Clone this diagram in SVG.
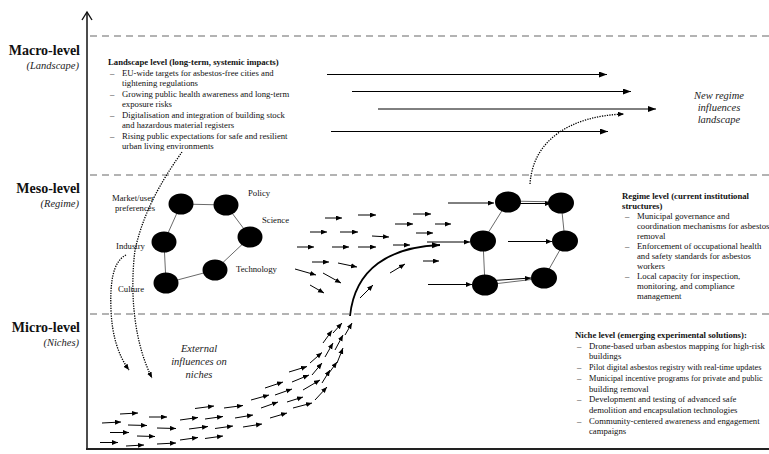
<svg xmlns="http://www.w3.org/2000/svg" width="769" height="454" viewBox="0 0 769 454">
<style>
.t{font-family:"Liberation Serif","Times New Roman",serif;font-size:8.7px;fill:#111}
.b{font-weight:bold}
.sm{font-size:8.3px}
.lvl{font-family:"Liberation Serif","Times New Roman",serif;font-size:14px;font-weight:bold;text-anchor:end;fill:#111}
.sub{font-family:"Liberation Serif","Times New Roman",serif;font-size:10.5px;font-style:italic;text-anchor:end;fill:#222}
.it{font-family:"Liberation Serif","Times New Roman",serif;font-size:10.5px;font-style:italic;text-anchor:middle;fill:#222}
.dash{stroke:#9a9a9a;stroke-width:1.3;stroke-dasharray:7 5;fill:none}
.node{fill:#000}
.edge{stroke:#6a6a6a;stroke-width:1;fill:none}
.sa{stroke:#000;stroke-width:1;fill:none;marker-end:url(#ah)}
.la{stroke:#000;stroke-width:1;fill:none;marker-end:url(#ahl)}
.dot{stroke:#000;stroke-width:1.3;stroke-dasharray:1.3 1.2;fill:none;marker-end:url(#ah)}
</style>
<defs>
<marker id="ah" markerUnits="userSpaceOnUse" markerWidth="7" markerHeight="6" refX="6" refY="2.5" orient="auto"><path d="M0,0 L6,2.5 L0,5 z" fill="#000"/></marker>
<marker id="ahl" markerUnits="userSpaceOnUse" markerWidth="9" markerHeight="7" refX="8" refY="3" orient="auto"><path d="M0,0 L8,3 L0,6 z" fill="#000"/></marker>
</defs>
<rect width="769" height="454" fill="#fff"/>

<g id="axes">
<line x1="87" y1="12" x2="87" y2="450" stroke="#111" stroke-width="1.5"/>
<path d="M82,20 L87,12 L92,20" stroke="#111" stroke-width="1.4" fill="none"/>
<line x1="86" y1="449" x2="769" y2="449" stroke="#222" stroke-width="2"/>
<line class="dash" x1="90" y1="36" x2="769" y2="36"/>
<line class="dash" x1="90" y1="175" x2="769" y2="175"/>
<line class="dash" x1="90" y1="314" x2="769" y2="314"/>
</g>

<g id="level-labels">
<text class="lvl" x="80" y="55">Macro-level</text>
<text class="sub" x="79" y="69">(Landscape)</text>
<text class="lvl" x="80" y="193">Meso-level</text>
<text class="sub" x="79" y="207">(Regime)</text>
<text class="lvl" x="80" y="332">Micro-level</text>
<text class="sub" x="79" y="346">(Niches)</text>
</g>

<g id="landscape-text" class="t">
<text class="t b" x="108" y="65">Landscape level (long-term, systemic impacts)</text>
<text x="110" y="75.5">–</text><text x="122" y="75.5">EU-wide targets for asbestos-free cities and</text>
<text x="122" y="86">tightening regulations</text>
<text x="110" y="96.5">–</text><text x="122" y="96.5">Growing public health awareness and long-term</text>
<text x="122" y="107">exposure risks</text>
<text x="110" y="117.5">–</text><text x="122" y="117.5">Digitalisation and integration of building stock</text>
<text x="122" y="128">and hazardous material registers</text>
<text x="110" y="138.5">–</text><text x="122" y="138.5">Rising public expectations for safe and resilient</text>
<text x="122" y="149">urban living environments</text>
</g>

<g id="regime-text" class="t">
<text class="t b" x="622" y="199">Regime level (current institutional</text>
<text class="t b" x="622" y="209">structures)</text>
<text x="625" y="219">–</text><text x="637" y="219">Municipal governance and</text>
<text x="637" y="229">coordination mechanisms for asbestos</text>
<text x="637" y="239">removal</text>
<text x="625" y="249">–</text><text x="637" y="249">Enforcement of occupational health</text>
<text x="637" y="259">and safety standards for asbestos</text>
<text x="637" y="269">workers</text>
<text x="625" y="279">–</text><text x="637" y="279">Local capacity for inspection,</text>
<text x="637" y="289">monitoring, and compliance</text>
<text x="637" y="299">management</text>
</g>

<g id="niche-text" class="t">
<text class="t b" x="575" y="338">Niche level (emerging experimental solutions):</text>
<text x="577" y="348.7">–</text><text x="589" y="348.7">Drone-based urban asbestos mapping for high-risk</text>
<text x="589" y="359.4">buildings</text>
<text x="577" y="370.1">–</text><text class="t sm" x="589" y="370.1">Pilot digital asbestos registry with real-time updates</text>
<text x="577" y="380.8">–</text><text class="t sm" x="589" y="380.8">Municipal incentive programs for private and public</text>
<text x="589" y="391.5">building removal</text>
<text x="577" y="402.2">–</text><text x="589" y="402.2">Development and testing of advanced safe</text>
<text x="589" y="412.9">demolition and encapsulation technologies</text>
<text x="577" y="423.6">–</text><text x="589" y="423.6">Community-centered awareness and engagement</text>
<text x="589" y="434.3">campaigns</text>
</g>

<g id="captions">
<text class="it" x="719" y="99">New regime</text>
<text class="it" x="719" y="111">influences</text>
<text class="it" x="719" y="123">landscape</text>
<text class="it" x="199" y="352">External</text>
<text class="it" x="199" y="365">influences on</text>
<text class="it" x="199" y="378">niches</text>
</g>

<g id="regime-labels" class="t">
<text x="112" y="201">Market/user</text>
<text x="115" y="211">preferences</text>
<text x="248" y="196">Policy</text>
<text x="262" y="223">Science</text>
<text x="116" y="249">Industry</text>
<text x="236" y="272">Technology</text>
<text x="118" y="292">Culture</text>
</g>

<g id="connectors">
<path class="edge" d="M181,204 L226,205 L250,237 L215,270 L166,283 L164,242 Z"/>
<path class="edge" d="M508,201 L561,202 L565,241 L544,278 L485,285 L483,241 Z"/>
<line class="la" x1="327" y1="74.5" x2="607" y2="74.5"/>
<line class="la" x1="352" y1="91.5" x2="631" y2="91.5"/>
<line class="la" x1="378" y1="109" x2="656" y2="109"/>
<line class="la" x1="331" y1="131.5" x2="608" y2="131.5"/>
<path class="dot" d="M182,152 C168,172 145,205 135,250 C130,290 133,340 152,378"/>
<path class="dot" d="M126,255 C112,262 110,285 111,310 C112,335 118,355 129,370"/>
<path class="dot" d="M530,184 C533,140 570,116 624,114"/>
<path d="M350,316 C355,268 390,247 440,245" stroke="#000" stroke-width="1.8" fill="none" marker-end="url(#ahl)"/>
<line class="sa" x1="448" y1="203" x2="494" y2="203"/>
<line class="sa" x1="507" y1="203.5" x2="551" y2="203.5"/>
<line class="sa" x1="427" y1="242" x2="470" y2="242"/>
<line class="sa" x1="508" y1="241.5" x2="552" y2="241.5"/>
<line class="sa" x1="428" y1="284.5" x2="472" y2="284.5"/>
<line class="sa" x1="486" y1="281" x2="531" y2="278"/>
<line class="sa" x1="325" y1="218" x2="342" y2="218"/>
<line class="sa" x1="358" y1="215" x2="376" y2="215"/>
<line class="sa" x1="413" y1="214" x2="431" y2="214"/>
<line class="sa" x1="395" y1="224" x2="413" y2="224"/>
<line class="sa" x1="435" y1="224" x2="451" y2="224"/>
<line class="sa" x1="310" y1="232" x2="327" y2="232"/>
<line class="sa" x1="340" y1="232" x2="358" y2="232"/>
<line class="sa" x1="372" y1="236" x2="389" y2="237"/>
<line class="sa" x1="416" y1="233" x2="433" y2="233"/>
<line class="sa" x1="297" y1="247" x2="314" y2="247"/>
<line class="sa" x1="332" y1="247" x2="349" y2="247"/>
<line class="sa" x1="358" y1="247" x2="376" y2="247"/>
<line class="sa" x1="393" y1="245" x2="410" y2="245"/>
<line class="sa" x1="312" y1="262" x2="329" y2="262"/>
<line class="sa" x1="338" y1="263" x2="357" y2="267"/>
<line class="sa" x1="423" y1="261" x2="439" y2="261"/>
<line class="sa" x1="295" y1="269" x2="316" y2="275"/>
<line class="sa" x1="323" y1="273" x2="341" y2="283"/>
<line class="sa" x1="310" y1="285" x2="324" y2="293"/>
<line class="sa" x1="390" y1="273" x2="405" y2="264"/>
<line class="sa" x1="360" y1="298" x2="373" y2="285"/>
<line class="sa" x1="120" y1="414" x2="138" y2="413"/>
<line class="sa" x1="149" y1="417" x2="167" y2="417"/>
<line class="sa" x1="102" y1="423" x2="121" y2="422"/>
<line class="sa" x1="128" y1="425" x2="147" y2="425.5"/>
<line class="sa" x1="157" y1="428" x2="176" y2="428.5"/>
<line class="sa" x1="110" y1="432.5" x2="129" y2="432.5"/>
<line class="sa" x1="137" y1="436" x2="155" y2="436.5"/>
<line class="sa" x1="100" y1="442.5" x2="118" y2="442.5"/>
<line class="sa" x1="126" y1="446" x2="144" y2="445"/>
<line class="sa" x1="157" y1="444" x2="176" y2="443"/>
<line class="sa" x1="180" y1="440" x2="198" y2="437.5"/>
<line class="sa" x1="205" y1="438.5" x2="223" y2="436"/>
<line class="sa" x1="180" y1="420" x2="198" y2="417.5"/>
<line class="sa" x1="205" y1="419" x2="223" y2="416.5"/>
<line class="sa" x1="195" y1="408.5" x2="214" y2="406"/>
<line class="sa" x1="224" y1="408" x2="243" y2="405.5"/>
<line class="sa" x1="189" y1="429" x2="208" y2="426.5"/>
<line class="sa" x1="215" y1="428.5" x2="233" y2="426"/>
<line class="sa" x1="235" y1="418" x2="253" y2="415"/>
<line class="sa" x1="243" y1="427" x2="262" y2="424"/>
<line class="sa" x1="251" y1="400" x2="269" y2="395"/>
<line class="sa" x1="261" y1="408" x2="278" y2="402"/>
<line class="sa" x1="265" y1="388" x2="283" y2="382"/>
<line class="sa" x1="270" y1="418" x2="287" y2="413"/>
<line class="sa" x1="275" y1="395" x2="292" y2="389"/>
<line class="sa" x1="287" y1="402" x2="303" y2="397"/>
<line class="sa" x1="289" y1="372" x2="307" y2="366.5"/>
<line class="sa" x1="292" y1="382" x2="309" y2="375"/>
<line class="sa" x1="293" y1="408" x2="312" y2="403"/>
<line class="sa" x1="303" y1="390" x2="320" y2="380"/>
<line class="sa" x1="310" y1="363" x2="322" y2="352.5"/>
<line class="sa" x1="312" y1="375" x2="322" y2="363"/>
<line class="sa" x1="315" y1="400" x2="327" y2="387"/>
<line class="sa" x1="322" y1="383" x2="330" y2="370"/>
<line class="sa" x1="323" y1="343" x2="332" y2="330.5"/>
<line class="sa" x1="325" y1="357" x2="333" y2="343"/>
<line class="sa" x1="329" y1="373" x2="337" y2="362"/>
<line class="sa" x1="333" y1="333" x2="342" y2="323"/>
<line class="sa" x1="335" y1="350" x2="343" y2="335"/>
<line class="sa" x1="337" y1="363" x2="343" y2="348"/>
<line class="sa" x1="345" y1="335" x2="352" y2="323"/>
</g>

<g id="regime-left-nodes">
<ellipse class="node" cx="181" cy="204" rx="12.5" ry="10.5"/>
<ellipse class="node" cx="226" cy="205" rx="12.5" ry="10.5"/>
<ellipse class="node" cx="250" cy="237" rx="12.5" ry="10.5"/>
<ellipse class="node" cx="164" cy="242" rx="12.5" ry="10.5"/>
<ellipse class="node" cx="215" cy="270" rx="12.5" ry="10.5"/>
<ellipse class="node" cx="166" cy="283" rx="12.5" ry="10.5"/>
</g>
<g id="regime-right-nodes">
<ellipse class="node" cx="508" cy="202" rx="13" ry="10.5"/>
<ellipse class="node" cx="561" cy="203" rx="13" ry="10.5"/>
<ellipse class="node" cx="483" cy="241" rx="13" ry="10.5"/>
<ellipse class="node" cx="565" cy="241" rx="13" ry="10.5"/>
<ellipse class="node" cx="485" cy="285" rx="13" ry="10.5"/>
<ellipse class="node" cx="544" cy="278" rx="13" ry="10.5"/>
</g>
</svg>
